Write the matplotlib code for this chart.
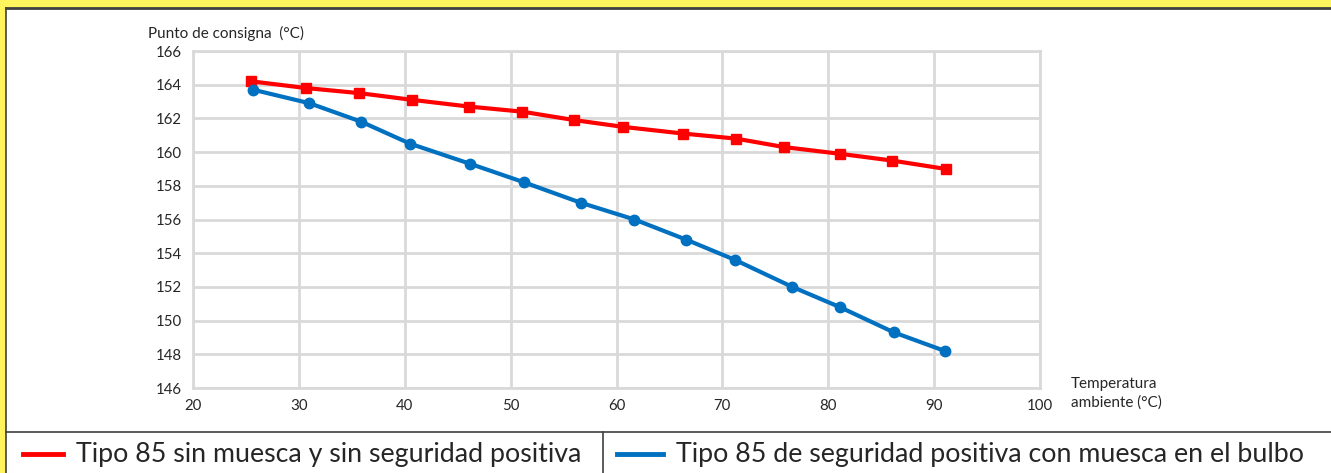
import numpy as np
import matplotlib
matplotlib.use("Agg")
import matplotlib.pyplot as plt
from matplotlib.lines import Line2D
from matplotlib.patches import Rectangle

plt.rcParams['font.family'] = ['Lato', 'DejaVu Sans']

# data
temp_red = [25.5, 30.7, 35.7, 40.7, 46.1, 51.1, 56.0, 60.6, 66.3, 71.3, 75.8, 81.1, 86.0, 91.1]
setpoint_red = [164.2, 163.8, 163.5, 163.1, 162.7, 162.4, 161.9, 161.5, 161.1, 160.8, 160.3, 159.9, 159.5, 159.0]

temp_blue = [25.7, 31.0, 35.9, 40.5, 46.2, 51.3, 56.6, 61.7, 66.6, 71.2, 76.6, 81.1, 86.2, 91.0]
setpoint_blue = [163.7, 162.9, 161.8, 160.5, 159.3, 158.2, 157.0, 156.0, 154.8, 153.6, 152.0, 150.8, 149.3, 148.2]

x_ticks = [20, 30, 40, 50, 60, 70, 80, 90, 100]
y_ticks = [146, 148, 150, 152, 154, 156, 158, 160, 162, 164, 166]

label_red = "Tipo 85 sin muesca y sin seguridad positiva"
label_blue = "Tipo 85 de seguridad positiva con muesca en el bulbo"

RED = "#ff0000"
BLUE = "#0070c0"
GRID = "#d9d9d9"
TXT = "#262626"

W, H = 1331, 473
fig = plt.figure(figsize=(W / 100, H / 100), dpi=100)
fig.patch.set_facecolor("#fff35e")


def fx(px):
    return px / W


def fy(py):
    return 1 - py / H


# white panel with dark border on top and left
fig.add_artist(Rectangle((fx(6), 0), 1 - fx(6), fy(8), transform=fig.transFigure,
                         facecolor="white", edgecolor="none", zorder=0))
fig.add_artist(Line2D([fx(6), 1], [fy(8), fy(8)], transform=fig.transFigure, color="#404040", lw=2))
fig.add_artist(Line2D([fx(6), fx(6)], [0, fy(8)], transform=fig.transFigure, color="#404040", lw=1.2))
# legend separators
fig.add_artist(Line2D([fx(6), 1], [fy(432), fy(432)], transform=fig.transFigure, color="#404040", lw=1.2))
fig.add_artist(Line2D([fx(603), fx(603)], [0, fy(432)], transform=fig.transFigure, color="#404040", lw=1.2))

ax = fig.add_axes([fx(193), fy(388), fx(1040) - fx(193), fy(51) - fy(388)])
ax.set_facecolor("white")
ax.plot(temp_red, setpoint_red, color=RED, lw=3, marker="s", ms=6.5, zorder=3)
ax.plot(temp_blue, setpoint_blue, color=BLUE, lw=3, marker="o", ms=7.5, zorder=3)

ax.set_xlim(20, 100)
ax.set_ylim(146, 166)
ax.set_xticks(x_ticks)
ax.set_yticks(y_ticks)
ax.grid(True, color=GRID, lw=2)
ax.set_axisbelow(True)
for s in ax.spines.values():
    s.set_color(GRID)
    s.set_linewidth(2)
ax.tick_params(length=0, labelsize=10.8, colors=TXT, pad=8)

fig.text(fx(148), fy(33), "Punto de consigna  (°C)", fontsize=11, color=TXT, va="center", ha="left")
fig.text(fx(1071), fy(393), "Temperatura\nambiente (°C)", fontsize=11, color=TXT,
         va="center", ha="left", linespacing=1.4)

# legend row
fig.add_artist(Line2D([fx(23), fx(63)], [fy(454), fy(454)], transform=fig.transFigure, color=RED, lw=3.5))
fig.text(fx(76), fy(454), label_red, fontsize=19.3, color=TXT, va="center", ha="left")
fig.add_artist(Line2D([fx(617), fx(663)], [fy(454), fy(454)], transform=fig.transFigure, color=BLUE, lw=3.5))
fig.text(fx(676), fy(454), label_blue, fontsize=19.3, color=TXT, va="center", ha="left")

fig.savefig("out.png", dpi=100)
